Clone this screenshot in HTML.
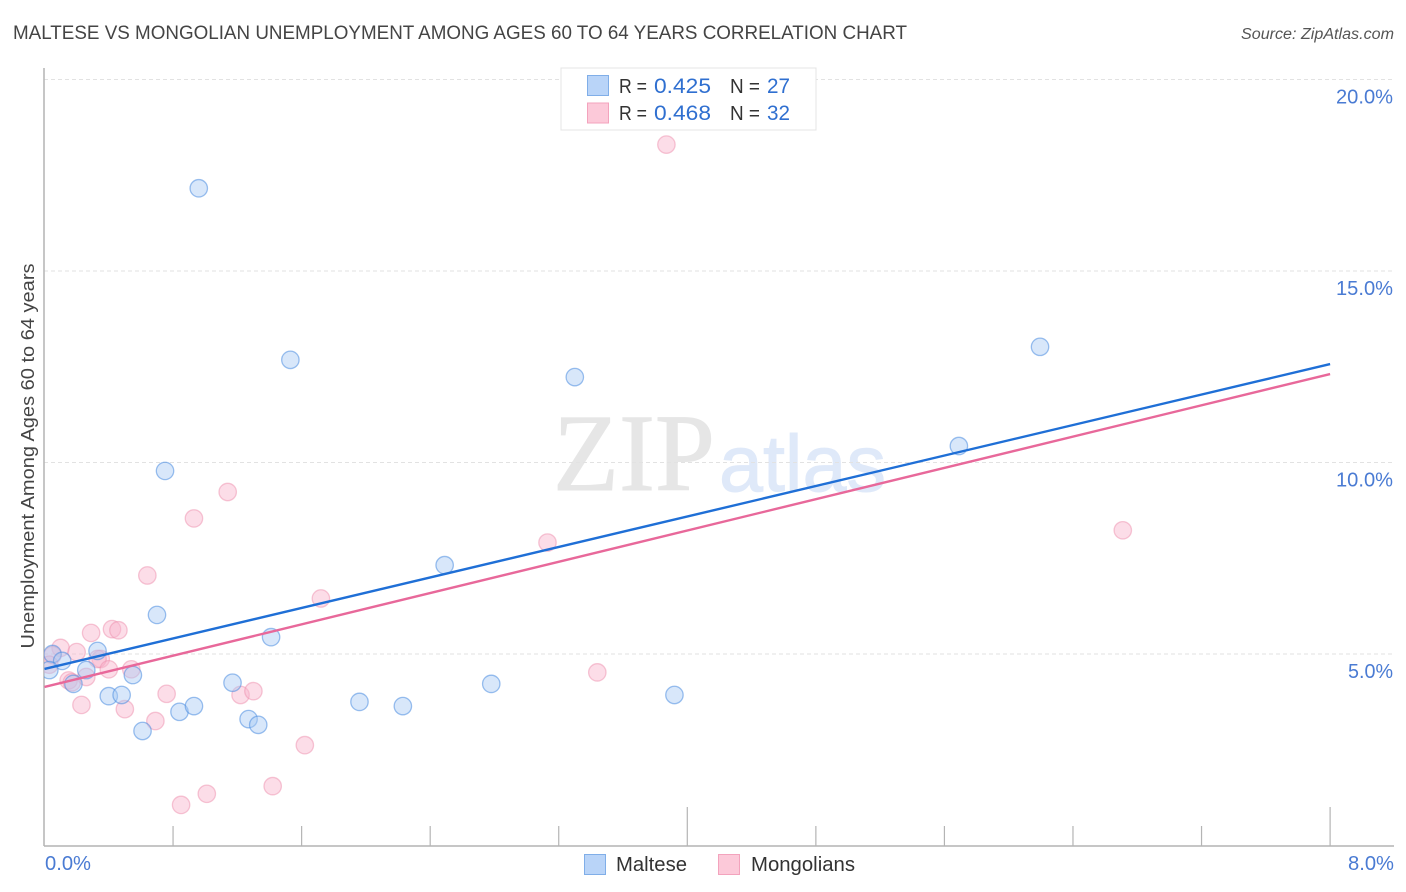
<!DOCTYPE html>
<html><head><meta charset="utf-8"><title>Maltese vs Mongolian Unemployment</title>
<style>
html,body{margin:0;padding:0;background:#fff;width:1406px;height:892px;overflow:hidden}
svg{display:block;font-family:"Liberation Sans",sans-serif}
</style></head><body>
<svg id="chart" width="1406" height="892" viewBox="0 0 1406 892">
<defs><clipPath id="plot-clip"><rect x="44" y="60" width="1350" height="786"/></clipPath></defs>
<text x="13" y="39" font-size="19" fill="#444" textLength="894" lengthAdjust="spacingAndGlyphs">MALTESE VS MONGOLIAN UNEMPLOYMENT AMONG AGES 60 TO 64 YEARS CORRELATION CHART</text>
<text x="1394" y="39" font-size="15.5" font-style="italic" fill="#555" text-anchor="end" textLength="153" lengthAdjust="spacingAndGlyphs">Source: ZipAtlas.com</text>
<g>
<text x="553" y="490" font-family="'Liberation Serif',serif" font-size="110" fill="#e6e6e6" stroke="#e6e6e6" stroke-width="1" textLength="162" lengthAdjust="spacingAndGlyphs">ZIP</text>
<text x="719" y="491" font-size="80" fill="#dfe9f9" stroke="#dfe9f9" stroke-width="1" textLength="167" lengthAdjust="spacingAndGlyphs">atlas</text>
</g>
<g id="grid"></g>
<g id="axes"></g>
<g id="points" clip-path="url(#plot-clip)"></g>
<g id="trends"></g>
<g id="ylabels"></g>
<g id="xlabels"></g>
<text transform="translate(34,456) rotate(-90)" font-size="18.5" fill="#444" text-anchor="middle" textLength="385" lengthAdjust="spacingAndGlyphs">Unemployment Among Ages 60 to 64 years</text>
<g>
<rect x="561" y="68" width="255" height="62" fill="#fff" stroke="#e4e4e4" stroke-width="1"/>
<rect x="587.5" y="75.5" width="21" height="20" fill="#b9d4f8" stroke="#80aee8"/>
<rect x="587.5" y="103" width="21" height="20" fill="#fcc9d9" stroke="#f3a3bd"/>
<g font-size="20" fill="#333">
<text x="619" y="93" textLength="28" lengthAdjust="spacingAndGlyphs">R =</text>
<text x="654" y="93" font-size="21.5" fill="#2f6fd0" textLength="57" lengthAdjust="spacingAndGlyphs">0.425</text>
<text x="730" y="93" textLength="30" lengthAdjust="spacingAndGlyphs">N =</text>
<text x="767" y="93" font-size="21.5" fill="#2f6fd0" textLength="23" lengthAdjust="spacingAndGlyphs">27</text>
<text x="619" y="120" textLength="28" lengthAdjust="spacingAndGlyphs">R =</text>
<text x="654" y="120" font-size="21.5" fill="#2f6fd0" textLength="57" lengthAdjust="spacingAndGlyphs">0.468</text>
<text x="730" y="120" textLength="30" lengthAdjust="spacingAndGlyphs">N =</text>
<text x="767" y="120" font-size="21.5" fill="#2f6fd0" textLength="23" lengthAdjust="spacingAndGlyphs">32</text>
</g></g>
<g>
<rect x="584.5" y="854.5" width="21" height="20" fill="#b9d4f8" stroke="#80aee8"/>
<text x="616" y="871" font-size="20" fill="#333" textLength="71" lengthAdjust="spacingAndGlyphs">Maltese</text>
<rect x="718.5" y="854.5" width="21" height="20" fill="#fcc9d9" stroke="#f3a3bd"/>
<text x="751" y="871" font-size="20" fill="#333" textLength="104" lengthAdjust="spacingAndGlyphs">Mongolians</text>
</g>
</svg>
<script>
// Data values: x = Maltese/Mongolian share (%), y = unemployment (%)
var malteseX = [0.96,1.53,3.30,6.195,5.69,0.75,2.49,0.70,1.41,0.33,0.26,0.55,0.18,0.40,0.48,0.61,0.84,0.93,1.17,1.27,1.33,1.96,2.23,2.78,3.92,0.05,0.11,0.03];
var malteseY = [17.16,12.68,12.23,13.02,10.43,9.78,7.32,6.02,5.44,5.08,4.58,4.45,4.22,3.90,3.93,2.99,3.49,3.64,4.25,3.30,3.15,3.75,3.64,4.22,3.93,5.00,4.82,4.58];
var mongolianX = [3.87,1.14,0.93,6.71,3.13,0.64,1.72,0.29,0.42,0.46,0.10,0.20,0.35,0.33,0.40,0.54,3.44,0.26,0.15,0.17,0.76,1.22,1.30,0.23,0.50,0.69,1.62,1.42,1.01,0.85,0.05,0.03];
var mongolianY = [18.30,9.23,8.54,8.23,7.91,7.05,6.45,5.55,5.65,5.62,5.16,5.05,4.87,4.87,4.60,4.60,4.52,4.40,4.31,4.26,3.96,3.93,4.03,3.67,3.56,3.25,2.62,1.55,1.35,1.06,4.97,4.72];
var malteseTrendX = [0, 8];
var malteseTrendY = [4.61, 12.57];
var mongolianTrendX = [0, 8];
var mongolianTrendY = [4.14, 12.31];
var yTicks = [5, 10, 15, 20];
var yTickLabels = ["5.0%", "10.0%", "15.0%", "20.0%"];
var xTicks = [0.8, 1.6, 2.4, 3.2, 4, 4.8, 5.6, 6.4, 7.2, 8];
var xMajor = [4, 8];
var xLabelValues = [0, 8];
var xTickLabels = ["0.0%", "8.0%"];

var NS = "http://www.w3.org/2000/svg";
function sx(v){ return 44.5 + v * 160.7; }
function sy(v){ return 654 - (v - 5) * 38.3; }
function add(parent, tag, attrs){
  var el = document.createElementNS(NS, tag);
  for (var k in attrs) el.setAttribute(k, attrs[k]);
  document.getElementById(parent).appendChild(el);
  return el;
}
yTicks.forEach(function(t, i){
  var g = add("grid", "line", {x1:44, x2:1394, y1:sy(t), y2:sy(t), stroke:"#e2e2e2", "stroke-width":1, "stroke-dasharray":"4 3"});
  
  
  var l = add("ylabels", "text", {x:1393, y:sy(t)+24, "font-size":20, fill:"#4a7bd3", "text-anchor":"end", textLength: t >= 10 ? 57 : 45, lengthAdjust:"spacingAndGlyphs"});
  l.textContent = yTickLabels[i];
  
  
});
var yAxis = add("axes", "line", {x1:44, x2:44, y1:68, y2:846, stroke:"#b4b4b4", "stroke-width":1.5});


var xAxis = add("axes", "line", {x1:44, x2:1394, y1:846, y2:846, stroke:"#b4b4b4", "stroke-width":1.5});


xTicks.forEach(function(t){
  var tall = xMajor.indexOf(t) >= 0;
  var m = add("axes", "line", {x1:sx(t), x2:sx(t), y1:tall ? 807 : 826, y2:846, stroke:"#b4b4b4", "stroke-width":1.2});
  
  
});
xLabelValues.forEach(function(v, i){
  var l = add("xlabels", "text", {x: i === 0 ? 45 : 1348, y:870, "font-size":20, fill:"#4a7bd3", textLength:46, lengthAdjust:"spacingAndGlyphs"});
  l.textContent = xTickLabels[i];
  
  
});
function drawPoints(xs, ys, fill, stroke, strokeOpacity, name){
  xs.forEach(function(x, i){
    var c = add("points", "circle", {cx:sx(x), cy:sy(ys[i]), r:8.7, fill:fill, "fill-opacity":0.45, stroke:stroke, "stroke-opacity":strokeOpacity, "stroke-width":1.3});
    
    
  });
}
drawPoints(mongolianX, mongolianY, "#f8b4cb", "#ee8fae", 0.5, "mongolian-point");
drawPoints(malteseX, malteseY, "#a9caf3", "#4a8de0", 0.55, "maltese-point");
var t1 = add("trends", "line", {x1:sx(malteseTrendX[0]), y1:sy(malteseTrendY[0]), x2:sx(malteseTrendX[1]), y2:sy(malteseTrendY[1]), stroke:"#1f6fd6", "stroke-width":2.4});


var t2 = add("trends", "line", {x1:sx(mongolianTrendX[0]), y1:sy(mongolianTrendY[0]), x2:sx(mongolianTrendX[1]), y2:sy(mongolianTrendY[1]), stroke:"#e8689a", "stroke-width":2.4});


</script>
</body></html>
